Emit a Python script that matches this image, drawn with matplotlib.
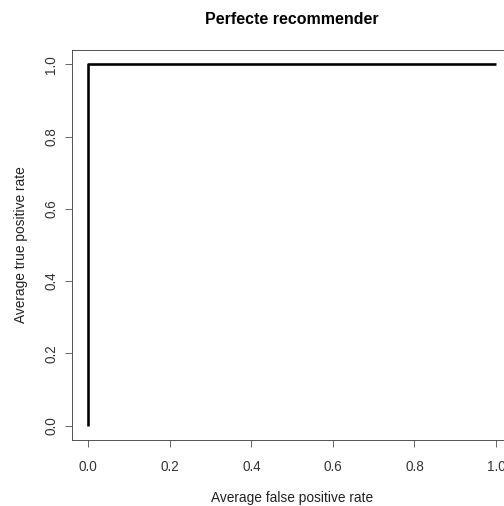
import matplotlib
matplotlib.use('Agg')
import matplotlib.pyplot as plt

# ROC curve of a perfect recommender
fpr = [0.0, 0.0, 1.0]
tpr = [0.0, 1.0, 1.0]
ticks = [0.0, 0.2, 0.4, 0.6, 0.8, 1.0]
tick_labels = ['0.0', '0.2', '0.4', '0.6', '0.8', '1.0']

plt.rcParams['font.family'] = ['Liberation Sans', 'DejaVu Sans']

W, H = 504, 506
fig = plt.figure(figsize=(W / 72, H / 72), dpi=72)
# plot box in pixels: left 72, right ~512 (runs off the image), top 50, bottom 440
ax = fig.add_axes([72 / W, (H - 440) / H, (512.3 - 72) / W, (440 - 50) / H])

ax.plot(fpr, tpr, color='black', lw=2.6, solid_capstyle='butt')
ax.set_xlim(-0.04, 1.04)
ax.set_ylim(-0.04, 1.04)

ax.set_xticks(ticks)
ax.set_xticklabels(tick_labels)
ax.set_yticks(ticks)
ax.set_yticklabels(tick_labels, rotation=90, va='center')
ax.tick_params(axis='both', length=7, width=0.8, color='#444444',
               labelsize=13.5, labelcolor='#333333')
ax.tick_params(axis='x', pad=13)
ax.tick_params(axis='y', pad=7)
for s in ax.spines.values():
    s.set_color('#444444')
    s.set_linewidth(0.9)

fig.text(292 / W, 1 - 19 / H, 'Perfecte recommender', ha='center', va='center',
         fontsize=16, fontweight='bold')
fig.text(292 / W, 1 - 498 / H, 'Average false positive rate', ha='center',
         va='center', fontsize=13.7, color='#222222')
fig.text(21 / W, 1 - 245 / H, 'Average true positive rate', ha='center',
         va='center', fontsize=13.7, rotation=90, color='#222222')

fig.savefig('out.png', dpi=72)
